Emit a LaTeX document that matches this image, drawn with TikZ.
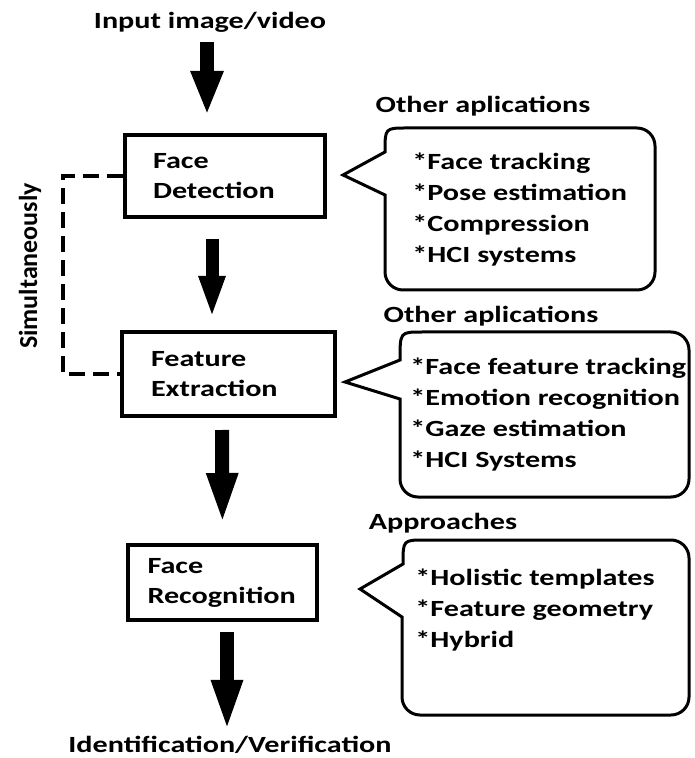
\documentclass[tikz,border=0pt]{standalone}
\usepackage{fontspec}
\usepackage{tikz}
\usetikzlibrary{arrows.meta}
\newfontfamily\calib{Carlito}[FakeStretch=1.3]
\newfontfamily\calibn{Carlito}
\tikzset{
    stage/.style = {rectangle, draw, line width=2pt, align=left, inner ysep=0pt,
                        font=\calib\bfseries\fontsize{11.6}{15}\selectfont},
    heading/.style = {inner sep=1pt, font=\calib\bfseries\fontsize{11.6}{15.5}\selectfont},
    items/.style = {anchor=west, align=left, inner sep=0pt,
                        font=\calib\bfseries\fontsize{11.6}{15.5}\selectfont},
    bubble/.style = {line width=1.5pt},
    flow/.style = {line width=7pt, -{Triangle[length=22pt, width=15pt]}},
    bracket/.style = {line width=2pt, dash pattern=on 8pt off 4pt}
}

\begin{document}
\begin{tikzpicture}[x=0.5pt, y=-0.5pt]
		\useasboundingbox (0,0) rectangle (694,758);
		\node (input) [heading] at (210,22) {Input image/video};
		\node (detect) [stage, minimum width=100pt, minimum height=41pt, inner xsep=14pt, text width=72pt] at (225,176) {Face\\Detection};
		\node (extract) [stage, minimum width=106.5pt, minimum height=42pt, inner xsep=14.5pt, text width=77.5pt] at (228.5,374) {Feature\\Extraction};
		\node (recog) [stage, minimum width=94.5pt, minimum height=37.5pt, inner xsep=9.75pt, text width=75pt] at (222.5,582.5) {Face\\Recognition};
		\node (ident) [heading] at (230,745) {Identification/Verification};
		\draw [flow, shorten <=4pt, shorten >=9pt] ([xshift=-1.5pt]input.south) -- ([xshift=-9pt]detect.north);
		\draw [flow, line width=6.5pt, -{Triangle[length=21pt, width=12pt]}, shorten <=10pt, shorten >=6pt] ([xshift=-6.5pt]detect.south) -- ([xshift=-8.25pt]extract.north);
		\draw [flow, -{Triangle[length=26pt, width=14pt]}, shorten <=6pt, shorten >=9pt] ([xshift=-3.25pt]extract.south) -- (recog.north);
		\draw [flow, -{Triangle[length=26pt, width=14pt]}, shorten <=5pt, shorten >=1pt] ([xshift=2.25pt]recog.south) -- ([xshift=-1.5pt]ident.north);
		\draw [bracket] (detect.west) -- ++(-60,0) |- (extract.west);
		\node (simul) [rotate=90, font=\calibn\bfseries\fontsize{13}{15}\selectfont] at (30,266) {Simultaneously};
		\node (hdr1) [heading] at (483,106) {Other aplications};
		\draw [bubble] (343,175) -- (385,152) .. controls (385,128) .. (407,128) [rounded corners=9pt] -- (655,128) -- (655,290) -- (385,290) [sharp corners] -- (385,195) -- cycle;
		\node (apps1) [items] at (412,209.5) {*Face tracking\\*Pose estimation\\*Compression\\*HCI systems};
		\node (hdr2) [heading] at (491,316) {Other aplications};
		\draw [bubble] (345,382) -- (400,360) .. controls (400,332) .. (422,332) [rounded corners=9pt] -- (689,332) -- (689,497) -- (400,497) [sharp corners] -- (400,399) -- cycle;
		\node (apps2) [items] at (410,415) {*Face feature tracking\\*Emotion recognition\\*Gaze estimation\\*HCI Systems};
		\node (hdr3) [heading] at (443,523) {Approaches};
		\draw [bubble] (360,589) -- (403,564) .. controls (403,540) .. (425,540) [rounded corners=9pt] -- (689,540) -- (689,715) -- (402,715) [sharp corners] -- (402,617) -- cycle;
		\node (appr) [items] at (415,610) {*Holistic templates\\*Feature geometry\\*Hybrid};
	\end{tikzpicture}
\end{document}
